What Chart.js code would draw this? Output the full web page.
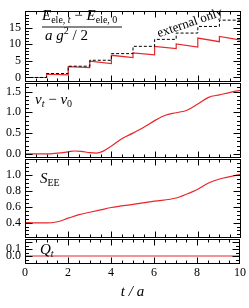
<!DOCTYPE html>
<html>
<head>
<meta charset="utf-8">
<script src="https://cdn.jsdelivr.net/npm/chart.js@4.4.1/dist/chart.umd.min.js"></script>
<style>
  html, body { margin: 0; padding: 0; background: #fff; }
  #wrap { position: relative; width: 249px; height: 308px; overflow: hidden; }
  canvas { position: absolute; left: 0; }
</style>
</head>
<body>
<div id="wrap">
  <canvas id="c1" width="249" height="92" style="top:0px"></canvas>
  <canvas id="c2" width="249" height="96" style="top:72px"></canvas>
  <canvas id="c3" width="249" height="100" style="top:148px"></canvas>
  <canvas id="c4" width="249" height="80" style="top:228px"></canvas>
</div>
<script>
// panel 1: electric energy, red = full, dashed = external only
const tEle = [0, 1, 1, 2, 2, 3, 3, 4, 4, 5, 5, 6, 6, 7, 7, 8, 8, 9, 9, 10];
const eEle = [0, 0, 1.0, 0.8, 3.3, 3.0, 4.9, 4.2, 6.7, 6.0, 7.4, 6.8, 9.4, 8.7, 10.1, 9.2, 11.9, 10.8, 12.4, 11.3];
const tExt = [0, 1, 2, 3, 4, 5, 6, 7, 8, 9, 10];
const eExt = [0, 1.2, 3.4, 5.2, 7.2, 9.4, 11.5, 13.4, 15.4, 17.3, 17.3];

// panel 2: nu_t - nu_0
const tNu = [0, 0.5, 1, 1.5, 2, 2.3, 2.6, 3, 3.3, 3.6, 4, 4.5, 5, 5.5, 6, 6.5, 7, 7.5, 8, 8.5, 9, 9.5, 10];
const nu  = [0, 0, 0, 0.02, 0.05, 0.07, 0.06, 0.03, 0.02, 0.06, 0.19, 0.37, 0.5, 0.64, 0.8, 0.93, 0.99, 1.05, 1.2, 1.36, 1.42, 1.48, 1.53];

// panel 3: S_EE
const tS = [0, 0.5, 1, 1.5, 2, 2.5, 3, 3.5, 4, 5, 6, 7, 7.5, 8, 8.5, 9, 9.5, 10];
const sEE = [0.40, 0.395, 0.395, 0.41, 0.455, 0.50, 0.53, 0.56, 0.59, 0.63, 0.67, 0.71, 0.76, 0.82, 0.90, 0.95, 0.98, 1.01];

// panel 4: Q_t
const tQ = [0, 10];
const qT = [0, 0];

// tick labels
const xTicks = [0, 2, 4, 6, 8, 10];
const yTicks1 = [0, 5, 10, 15];
const yTicks2 = [0, 0.5, 1.0, 1.5];
const yTicks3 = [0.4, 0.6, 0.8, 1.0];
const yTicks4 = [0, 0.1];

const FONT = '"Liberation Serif", "DejaVu Serif", serif';
const RED = '#e8262c';

function pts(xs, ys) {
  return xs.map((x, i) => ({ x: x, y: ys[i] }));
}

function steps(min, max, step) {
  const out = [];
  for (let k = Math.ceil(min / step - 1e-9); k <= Math.floor(max / step + 1e-9); k++) out.push(k * step);
  return out;
}

// frame with inward ticks on all four sides
const frameTicks = {
  id: 'frameTicks',
  afterDraw(chart, args, o) {
    const { ctx, chartArea: a, scales } = chart;
    const x = scales.x, y = scales.y;
    const L = Math.round(a.left) + 0.5, R = Math.round(a.right) - 0.5;
    const T = Math.round(a.top) + 0.5, B = Math.round(a.bottom) + 0.5;
    ctx.save();
    ctx.strokeStyle = '#000';
    ctx.lineWidth = 1;
    ctx.beginPath();
    steps(0, 10, 0.5).forEach(v => {
      if (v <= 0 || v >= 10) return;
      const px = Math.round(x.getPixelForValue(v)) + 0.5;
      const len = Math.abs(v % 2) < 1e-6 ? 6 : 3;
      ctx.moveTo(px, T); ctx.lineTo(px, T + len);
      ctx.moveTo(px, B); ctx.lineTo(px, B - len);
    });
    steps(y.min, y.max, o.minor).forEach(v => {
      const py = Math.round(y.getPixelForValue(v)) + 0.5;
      if (py <= T + 1 || py >= B - 1) return;
      const r = v / o.major;
      const len = Math.abs(r - Math.round(r)) < 1e-6 ? 7 : 3.5;
      ctx.moveTo(L, py); ctx.lineTo(L + len, py);
      ctx.moveTo(R, py); ctx.lineTo(R - len, py);
    });
    ctx.stroke();
    ctx.strokeRect(L, T, R - L, B - T);
    ctx.restore();
  }
};

// text with sub/superscripts
function rich(ctx, x, y, parts) {
  parts.forEach(p => {
    ctx.font = p.f;
    ctx.fillText(p.t, x, y + (p.dy || 0));
    x += ctx.measureText(p.t).width;
  });
}
const IT = 'italic 15px ' + FONT, RM = '15px ' + FONT;
const ITs = 'italic 10px ' + FONT, RMs = '10px ' + FONT;

// fn draws in page coordinates; shift by the canvas offset
function labelPlugin(fn, top) {
  return {
    id: 'panelLabel',
    afterDraw(chart) {
      const ctx = chart.ctx;
      ctx.save();
      ctx.translate(0, -top);
      ctx.fillStyle = '#000';
      ctx.textBaseline = 'alphabetic';
      fn(ctx);
      ctx.restore();
    }
  };
}

function makePanel(id, top, datasets, yMin, yMax, yTicks, dec, major, minor, pad, label, showX) {
  return new Chart(document.getElementById(id), {
    type: 'line',
    data: { datasets: datasets },
    options: {
      responsive: false,
      devicePixelRatio: 1,
      animation: false,
      layout: { padding: { left: 0, right: 8, top: pad[0], bottom: pad[1] } },
      plugins: {
        legend: { display: false },
        tooltip: { enabled: false },
        frameTicks: { major: major, minor: minor }
      },
      scales: {
        x: {
          type: 'linear', min: 0, max: 10,
          display: showX,
          grid: { display: false, drawTicks: false },
          border: { display: false },
          afterBuildTicks: s => { s.ticks = xTicks.map(v => ({ value: v })); },
          afterFit: s => { if (showX) s.height = 45; },
          ticks: { padding: 3, color: '#000', font: { family: FONT, size: 12 }, autoSkip: false, maxRotation: 0 },
          title: { display: showX, text: 't / a', color: '#000', font: { family: FONT, size: 15, style: 'italic' }, padding: { top: 0, bottom: 7 } }
        },
        y: {
          type: 'linear', min: yMin, max: yMax,
          grid: { display: false, drawTicks: false },
          border: { display: false },
          afterBuildTicks: s => { s.ticks = yTicks.map(v => ({ value: v })); },
          afterFit: s => { s.width = 25; },
          ticks: { padding: 4, color: '#000', autoSkip: false, font: { family: FONT, size: 12 },
                   callback: v => Number(v).toFixed(dec) }
        }
      }
    },
    plugins: [frameTicks, labelPlugin(label, top)]
  });
}

const redLine = (data, extra) => Object.assign({
  data: data, borderColor: RED, borderWidth: 1.2, pointRadius: 0, fill: false
}, extra || {});

makePanel('c1', 0, [
  { data: pts(tExt, eExt), borderColor: '#000', borderWidth: 1, borderDash: [3, 2], pointRadius: 0, stepped: true, fill: false },
  redLine(pts(tEle, eEle), { tension: 0 })
], -1, 20, yTicks1, 0, 5, 1, [3, 10], ctx => {
  rich(ctx, 42, 20, [
    { t: 'E', f: IT }, { t: 'ele, ', f: RMs, dy: 3 }, { t: 't', f: ITs, dy: 3 },
    { t: ' \u2212 ', f: RM }, { t: 'E', f: IT }, { t: 'ele, 0', f: RMs, dy: 3 }
  ]);
  ctx.strokeStyle = '#888';
  ctx.lineWidth = 2;
  ctx.beginPath(); ctx.moveTo(42, 27); ctx.lineTo(122, 27); ctx.stroke();
  rich(ctx, 45, 40, [
    { t: 'a', f: IT }, { t: ' ', f: RM }, { t: 'g', f: IT }, { t: '2', f: RMs, dy: -6 }, { t: ' / 2', f: RM }
  ]);
  ctx.save();
  ctx.translate(190, 23);
  ctx.rotate(-19 * Math.PI / 180);
  ctx.font = '13px ' + FONT;
  ctx.textAlign = 'center';
  ctx.textBaseline = 'middle';
  ctx.fillText('external only', 0, 0);
  ctx.restore();
}, false);

makePanel('c2', 72, [
  redLine(pts(tNu, nu), { cubicInterpolationMode: 'monotone' })
], -0.07, 1.7, yTicks2, 1, 0.5, 0.1, [10, 10], ctx => {
  rich(ctx, 35, 104, [
    { t: '\u03bd', f: IT }, { t: 't', f: ITs, dy: 3 }, { t: ' \u2212 ', f: RM },
    { t: '\u03bd', f: IT }, { t: '0', f: RMs, dy: 3 }
  ]);
}, false);

makePanel('c3', 148, [
  redLine(pts(tS, sEE), { cubicInterpolationMode: 'monotone' })
], 0.22, 1.2, yTicks3, 1, 0.2, 0.05, [10, 10], ctx => {
  rich(ctx, 40, 183, [{ t: 'S', f: IT }, { t: 'EE', f: RMs, dy: 3 }]);
}, false);

makePanel('c4', 228, [
  redLine(pts(tQ, qT))
], -0.1, 0.24, yTicks4, 1, 0.1, 0.05, [10, 0], ctx => {
  rich(ctx, 40, 254, [{ t: 'Q', f: IT }, { t: 't', f: ITs, dy: 3 }]);
}, true);
</script>
</body>
</html>
